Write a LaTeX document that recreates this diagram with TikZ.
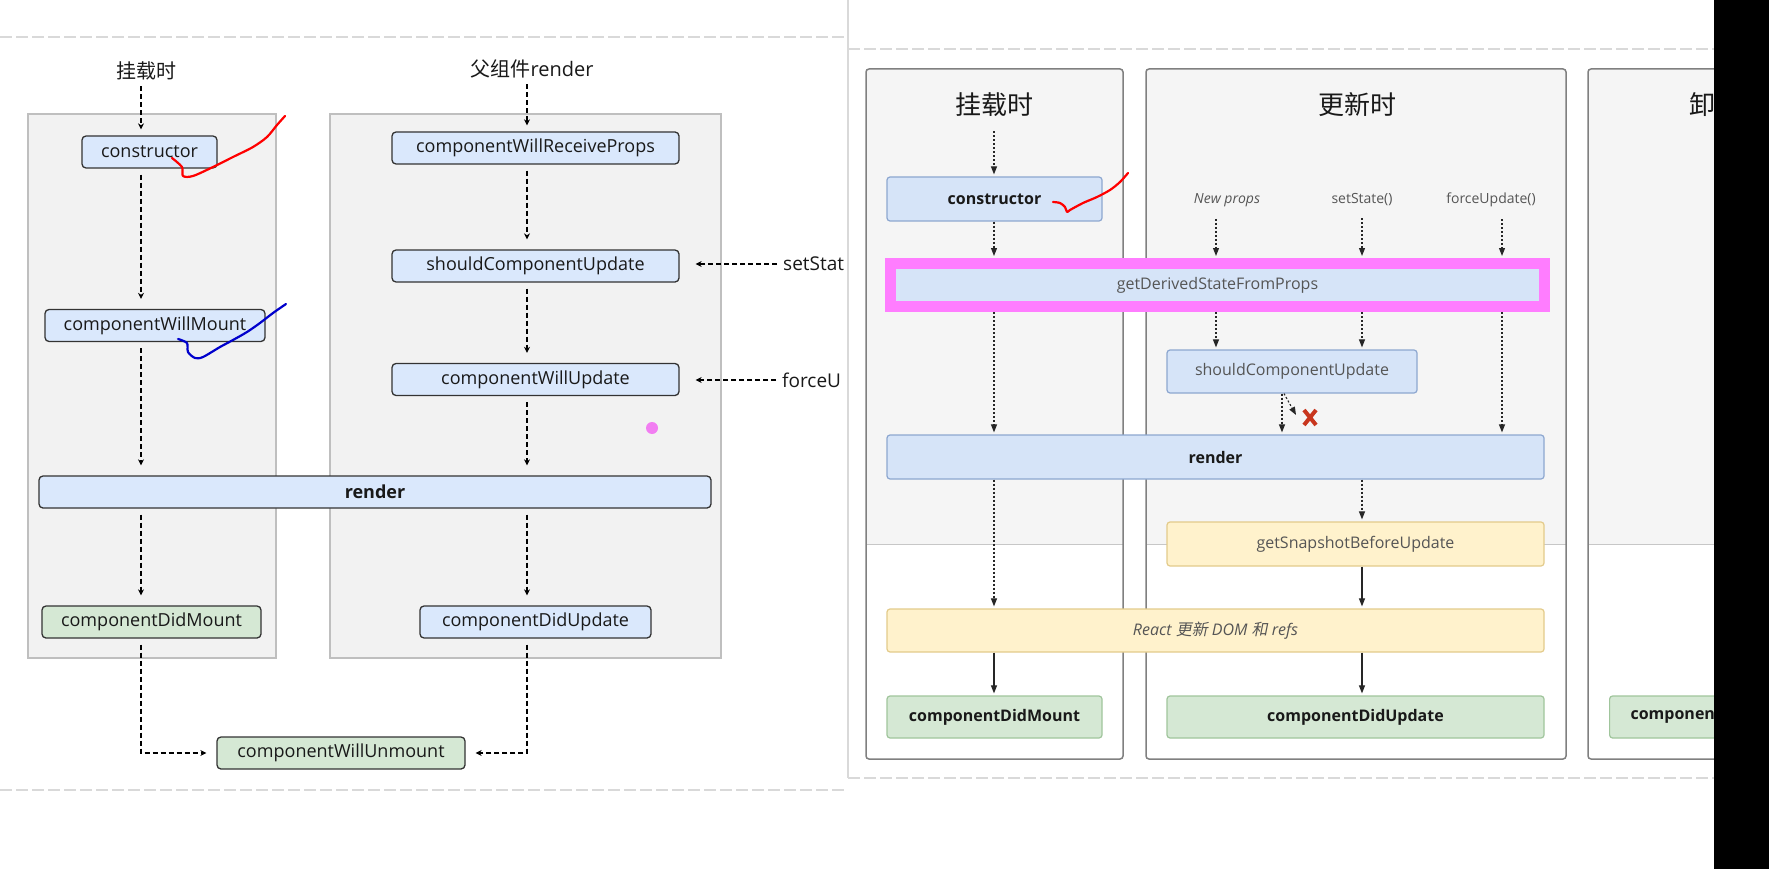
\documentclass[tikz,border=0pt]{standalone}
\usepackage{fontspec}
\setmainfont{Open Sans}
\newfontfamily\cjk{Noto Sans CJK SC}
\newfontfamily\cjkit[FakeSlant=0.2]{Noto Sans CJK SC}
\usetikzlibrary{arrows.meta}
\definecolor{oldblue}{HTML}{DAE8FC}
\definecolor{oldgreen}{HTML}{D5E8D4}
\definecolor{panelgray}{HTML}{F2F2F2}
\definecolor{newblue}{HTML}{D6E4F8}
\definecolor{newblueline}{HTML}{8DA7D0}
\definecolor{newyellow}{HTML}{FFF2CC}
\definecolor{newyellowline}{HTML}{E3CB8B}
\definecolor{newgreen}{HTML}{D5E8D4}
\definecolor{newgreenline}{HTML}{A0C59C}
\definecolor{hilite}{HTML}{FF7DFF}
\definecolor{dotpink}{HTML}{F27EF2}
\definecolor{textgray}{HTML}{555555}
\definecolor{xred}{HTML}{C8361E}
\tikzset{myarrow/.style={black,line width=1.8pt,dash pattern=on 5pt off 3pt,-{Stealth[length=6pt,width=6pt]},shorten <=6pt,shorten >=10pt}}
\tikzset{mybox/.style={draw=black!80,fill=oldblue,rounded corners=4pt,line width=1.3pt,minimum height=32pt,inner sep=0pt,text=black!90,font=\fontsize{18}{20}\selectfont}}
\tikzset{mylabel/.style={inner sep=0pt,text=black!90,font=\fontsize{20}{22}\selectfont}}
\tikzset{mypanel/.style={draw=black!25,fill=panelgray,line width=1.5pt}}
\tikzset{flowarrow/.style={black!85,line width=1.1pt,-{Triangle[length=8pt,width=6pt]},shorten >=2pt}}
\tikzset{dotarrow/.style={flowarrow,dash pattern=on 2pt off 2pt}}
\tikzset{flowbox/.style={draw=newblueline,fill=newblue,rounded corners=3pt,line width=1.2pt,minimum height=44pt,inner sep=0pt,text=textgray,font=\fontsize{16}{18}\selectfont}}
\tikzset{flowbold/.style={flowbox,text=black!90,font=\fontsize{16}{18}\selectfont\bfseries}}
\tikzset{flowhint/.style={inner sep=0pt,text=textgray,font=\fontsize{14}{16}\selectfont}}
\tikzset{flowtitle/.style={inner sep=0pt,text=black!90,font=\cjk\fontsize{26}{28}\selectfont}}
\tikzset{flowpanel/.style={draw=black!50,line width=1.5pt,rounded corners=3pt}}
\tikzset{scribble/.style={line width=2.2pt,line cap=round,line join=round}}
\tikzset{sheetline/.style={black!15,line width=1.5pt,dash pattern=on 12pt off 4pt}}

\begin{document}
\begin{tikzpicture}[x=1pt,y=-1pt]
	\useasboundingbox (0,0) rectangle (1769,869);
	\fill[white] (0,0) rectangle (1769,869);

	% old lifecycle
	\draw[sheetline] (0,37) -- (848,37);
	\draw[sheetline] (0,790) -- (848,790);
	\draw[mypanel] (28,114) rectangle (276,658);
	\draw[mypanel] (330,114) rectangle (721,658);

	\coordinate (lcol) at (141,0);
	\coordinate (rcol) at (527,0);

	\node[mylabel] (mounthd) at (146,71) {\cjk 挂载时};
	\node[mylabel] (parenthd) at (532,69) {{\cjk 父组件}render};
	\node[mybox,minimum width=135pt] (ctor) at (149.5,152) {constructor};
	\node[mybox,minimum width=220pt] (willmount) at (155,325.5) {componentWillMount};
	\node[mybox,minimum width=287pt] (receive) at (535.5,148) {componentWillReceiveProps};
	\node[mybox,minimum width=287pt] (should) at (535.5,266) {shouldComponentUpdate};
	\node[mybox,minimum width=287pt] (willupdate) at (535.5,379.5) {componentWillUpdate};
	\node[mybox,minimum width=672pt,font=\fontsize{18}{20}\selectfont\bfseries] (render) at (375,492) {render};
	\node[mybox,fill=oldgreen,minimum width=219pt] (didmount) at (151.5,622) {componentDidMount};
	\node[mybox,minimum width=231pt] (didupdate) at (535.5,622) {componentDidUpdate};
	\node[mybox,fill=oldgreen,minimum width=248pt] (unmount) at (341,753) {componentWillUnmount};
	\node[mylabel,anchor=west,font=\fontsize{19}{21}\selectfont] (setst) at (783,264) {setStat};
	\node[mylabel,anchor=west,font=\fontsize{19}{21}\selectfont] (forceu) at (782,380) {forceU};

	\draw[myarrow,shorten >=6pt] (mounthd.south -| lcol) -- (ctor.north -| lcol);
	\draw[myarrow] (ctor.south -| lcol) -- (willmount.north -| lcol);
	\draw[myarrow] (willmount.south -| lcol) -- (render.north -| lcol);
	\draw[myarrow] (render.south -| lcol) -- (didmount.north -| lcol);
	\draw[myarrow] (didmount.south -| lcol) |- (unmount.west);
	\draw[myarrow,shorten >=6pt] (parenthd.south -| rcol) -- (receive.north -| rcol);
	\draw[myarrow] (receive.south -| rcol) -- (should.north -| rcol);
	\draw[myarrow] (should.south -| rcol) -- (willupdate.north -| rcol);
	\draw[myarrow] (willupdate.south -| rcol) -- (render.north -| rcol);
	\draw[myarrow] (render.south -| rcol) -- (didupdate.north -| rcol);
	\draw[myarrow] (didupdate.south -| rcol) |- (unmount.east);
	\draw[myarrow,shorten >=16pt] (setst.west) -- (setst.west -| should.east);
	\draw[myarrow,shorten >=16pt] (forceu.west) -- (forceu.west -| willupdate.east);

	% pen marks
	\draw[scribble,red] plot[smooth] coordinates {(172,158) (182,167) (183,176) (193,176) (213,167) (233,157) (253,147) (267,137) (277,125) (285,116)};
	\draw[scribble,blue!80!black] plot[smooth] coordinates {(178,339) (187,343) (188,352) (195,358) (203,357) (220,347) (233,340) (247,332) (260,323) (273,313) (286,304)};
	\fill[dotpink] (652,428) circle[radius=6pt];

	% new lifecycle
	\fill[white] (848,0) rectangle (1714,869);
	\draw[black!15,line width=1.2pt] (848,0) -- (848,778);
	\draw[sheetline] (848,49) -- (1714,49);
	\draw[sheetline] (848,778) -- (1714,778);
	\foreach \xa/\xb in {866/1123,1146/1566,1588/1769} {
		\fill[black!4] (\xa,69) rectangle (\xb,544);
		\draw[black!22,line width=1pt] (\xa,544) -- (\xb,544);
		\draw[flowpanel] (\xa,69) rectangle (\xb,759);
	}

	\coordinate (c1) at (994,0);
	\coordinate (c2) at (1216,0);
	\coordinate (c3) at (1362,0);
	\coordinate (c4) at (1502,0);
	\coordinate (c5) at (1282,0);
	\coordinate (skip) at (1296,415);

	\node[flowtitle] (mounthd2) at (994,105) {挂载时};
	\node[flowtitle] (updatehd) at (1357,105) {更新时};
	\node[flowtitle,anchor=west] (unmounthd) at (1689,105) {卸};
	\node[flowhint,font=\fontsize{14}{16}\selectfont\itshape] (newprops) at (1227,200) {New props};
	\node[flowhint] (setstate) at (1362,200) {setState()};
	\node[flowhint] (forceupd) at (1491,200) {forceUpdate()};

	\node[flowbold,minimum width=215pt] (rctor) at (994.5,199) {constructor};
	\node[flowbox,draw=hilite,line width=11pt,rounded corners=0pt,minimum width=654pt,minimum height=43pt] (derived) at (1217.5,285) {getDerivedStateFromProps};
	\node[flowbox,minimum width=250pt,minimum height=43pt] (rshould) at (1292,371.5) {shouldComponentUpdate};
	\node[flowbold,minimum width=657pt] (rrender) at (1215.5,457) {render};
	\node[flowbox,fill=newyellow,draw=newyellowline,minimum width=377pt] (snapshot) at (1355.5,544) {getSnapshotBeforeUpdate};
	\node[flowbox,fill=newyellow,draw=newyellowline,minimum width=657pt,minimum height=43pt] (dom) at (1215.5,630.5) {\itshape React {\cjkit 更新} DOM {\cjkit 和} refs};
	\node[flowbold,fill=newgreen,draw=newgreenline,minimum width=215pt,minimum height=42pt] (rdidmount) at (994.5,717) {componentDidMount};
	\node[flowbold,fill=newgreen,draw=newgreenline,minimum width=377pt,minimum height=42pt] (rdidupdate) at (1355.5,717) {componentDidUpdate};
	\node[flowbold,fill=newgreen,draw=newgreenline,anchor=west,minimum height=42pt,inner xsep=21pt,text width=173pt,align=left] (runmount) at (1609,717) {componen};

	\draw[dotarrow,shorten <=14pt] (mounthd2.south -| c1) -- (rctor.north -| c1);
	\draw[dotarrow] (rctor.south -| c1) -- (derived.north -| c1);
	\draw[dotarrow,shorten <=12pt] (newprops.south -| c2) -- (derived.north -| c2);
	\draw[dotarrow,shorten <=12pt] (setstate.south -| c3) -- (derived.north -| c3);
	\draw[dotarrow,shorten <=12pt] (forceupd.south -| c4) -- (derived.north -| c4);
	\draw[dotarrow] (derived.south -| c1) -- (rrender.north -| c1);
	\draw[dotarrow] (derived.south -| c2) -- (rshould.north -| c2);
	\draw[dotarrow] (derived.south -| c3) -- (rshould.north -| c3);
	\draw[dotarrow] (derived.south -| c4) -- (rrender.north -| c4);
	\draw[dotarrow] (rshould.south -| c5) -- (rrender.north -| c5);
	\draw[dotarrow,shorten >=0pt] ([xshift=2pt]rshould.south -| c5) -- (skip);
	\draw[dotarrow] (rrender.south -| c1) -- (dom.north -| c1);
	\draw[dotarrow] (rrender.south -| c3) -- (snapshot.north -| c3);
	\draw[flowarrow] (snapshot.south -| c3) -- (dom.north -| c3);
	\draw[flowarrow] (dom.south -| c1) -- (rdidmount.north -| c1);
	\draw[flowarrow] (dom.south -| c3) -- (rdidupdate.north -| c3);

	% pen marks
	\draw[xred,line width=4pt] (1304,410) -- (1316,425) (1316,410) -- (1304,425);
	\draw[scribble,red] plot[smooth] coordinates {(1053,202) (1060,203) (1065,207) (1067,212) (1070,210) (1083,203) (1097,197) (1110,190) (1120,182) (1128,173)};

	\fill[black] (1714,0) rectangle (1769,869);
\end{tikzpicture}
\end{document}
